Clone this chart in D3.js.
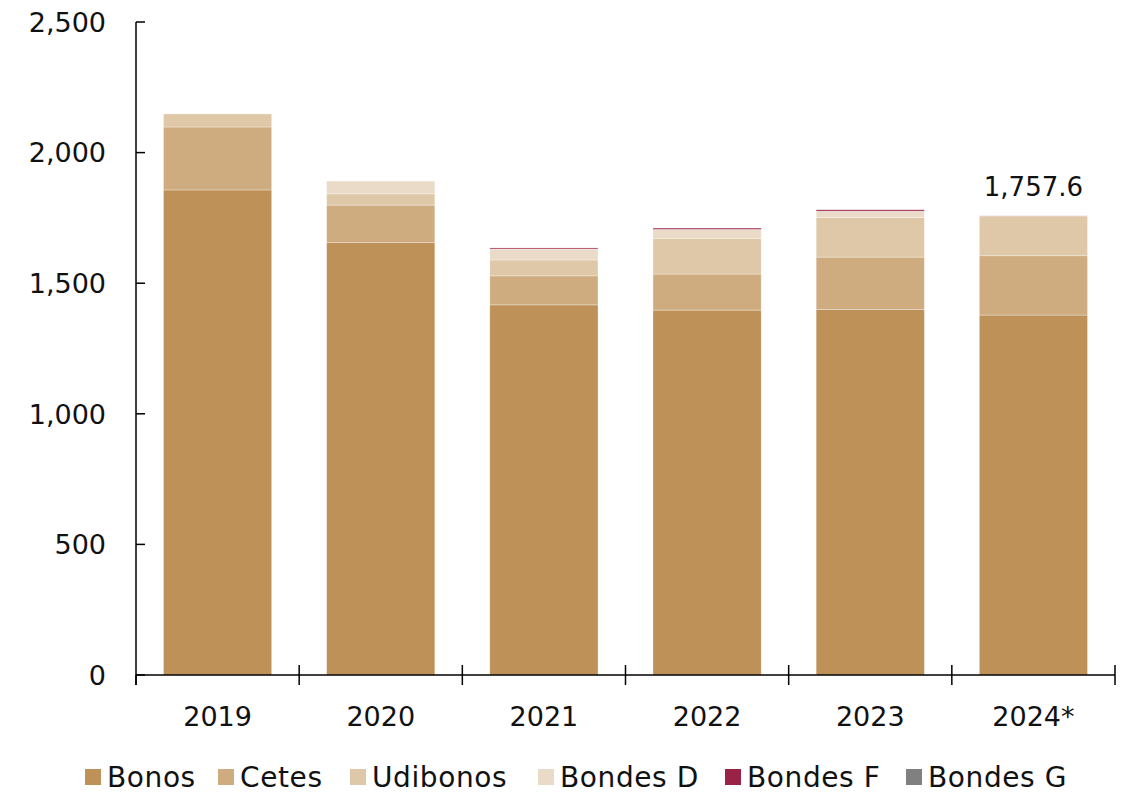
<!DOCTYPE html>
<html><head><meta charset="utf-8">
<script src="https://cdn.jsdelivr.net/npm/d3@7"></script>
<style>
body{margin:0;background:#fff;}
text{font-family:"DejaVu Sans",sans-serif;fill:#111;}
</style></head>
<body><svg id="c" width="1132" height="793"></svg>
<script>
const years = ["2019","2020","2021","2022","2023","2024*"];
const seriesNames = ["Bonos","Cetes","Udibonos","Bondes D","Bondes F","Bondes G"];
const bonos    = [1857, 1655, 1417, 1397, 1400, 1378];
const cetes    = [ 241,  144,  111,  138,  200,  227];
const udibonos = [  50,   43,   61,  137,  151,  152];
const bondesD  = [   0,   49,   42,   34,   25,    0];
const bondesF  = [   0,    0,    4,    5,    5,  0.6];
const bondesG  = [   0,    0,    0,    0,    0,    0];
const colors = ["#BD9157","#CFAC7F","#DFC8A8","#EADBC8","#9B2247","#808080"];
const yTicks = [0,500,1000,1500,2000,2500];
const lastLabel = "1,757.6";

const seriesVals = [bonos,cetes,udibonos,bondesD,bondesF,bondesG];
const rows = years.map((y,i)=>{const o={year:y}; seriesNames.forEach((s,j)=>o[s]=seriesVals[j][i]); return o;});
const stack = d3.stack().keys(seriesNames)(rows);

const svg = d3.select("#c");
const m = {l:136, r:1115, t:22, b:675};
const x = d3.scaleBand().domain(years).range([m.l,m.r]).paddingInner(0.337).paddingOuter(0.1685);
const y = d3.scaleLinear().domain([0,2500]).range([m.b,m.t]);

svg.append("g").selectAll("g").data(stack).join("g")
  .attr("fill",(d,i)=>colors[i])
  .selectAll("rect").data(d=>d).join("rect")
  .attr("x",d=>x(d.data.year)).attr("width",x.bandwidth())
  .attr("y",d=>y(d[1])).attr("height",d=>Math.max(0,y(d[0])-y(d[1])))
  .attr("stroke","#fff").attr("stroke-width",0.6).attr("stroke-opacity",0.5);

const fs = 27;
// y axis
const ya = svg.append("g");
ya.append("line").attr("x1",m.l).attr("x2",m.l).attr("y1",y(2500)).attr("y2",m.b+10).attr("stroke","#000").attr("stroke-width",1.5);
ya.selectAll(".yt").data(yTicks).join("line").attr("x1",m.l).attr("x2",m.l+9).attr("y1",d=>y(d)).attr("y2",d=>y(d)).attr("stroke","#000").attr("stroke-width",1.5);
ya.selectAll(".yl").data(yTicks).join("text").attr("x",106).attr("y",d=>y(d)).attr("dy","0.36em")
  .attr("text-anchor","end").attr("font-size",fs).text(d=>d3.format(",")(d));

// x axis
const xa = svg.append("g");
xa.append("line").attr("x1",m.l).attr("x2",m.r).attr("y1",m.b).attr("y2",m.b).attr("stroke","#000").attr("stroke-width",1.5);
const step = x.step();
const bounds = d3.range(years.length+1).map(i=>m.l+i*step);
xa.selectAll(".xt").data(bounds).join("line").attr("x1",d=>d).attr("x2",d=>d)
  .attr("y1",(d,i)=>i===0?m.b:m.b-10).attr("y2",m.b+10).attr("stroke","#000").attr("stroke-width",1.5);
xa.selectAll(".xl").data(years).join("text").attr("x",d=>x(d)+x.bandwidth()/2).attr("y",726)
  .attr("text-anchor","middle").attr("font-size",fs).text(d=>d);

// total label
const lastTotal = stack[stack.length-1][years.length-1][1];
svg.append("text").attr("x",x(years[5])+x.bandwidth()/2).attr("y",y(lastTotal)-20)
  .attr("text-anchor","middle").attr("font-size",26).text(lastLabel);

// legend
const legendX = [85,218,350,538,725,906];
const lg = svg.append("g").attr("transform","translate(0,777)");
seriesNames.forEach((s,i)=>{
  const g = lg.append("g").attr("transform",`translate(${legendX[i]},0)`);
  g.append("rect").attr("x",0).attr("y",-8).attr("width",16).attr("height",16).attr("fill",colors[i]);
  g.append("text").attr("x",22).attr("y",0).attr("dy","0.36em").attr("font-size",28)
    .attr("letter-spacing",0.6).text(s);
});
</script></body></html>
